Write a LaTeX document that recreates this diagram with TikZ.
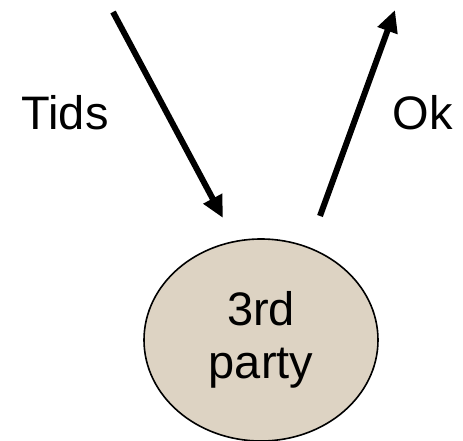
\documentclass[tikz,border=0pt]{standalone}
\usepackage{fontspec}
\setmainfont{Liberation Sans}
\usetikzlibrary{arrows.meta,shapes.geometric}
\definecolor{partyfill}{RGB}{221,211,195}
\begin{document}
\begin{tikzpicture}[x=1pt,y=-1pt,
  flow/.style={line width=6pt,-{Triangle[length=22pt,width=20pt]}},
  lbl/.style={font=\fontsize{47}{53}\selectfont,inner sep=0pt,anchor=base},
  party/.style={ellipse,draw=black,line width=1.6pt,fill=partyfill,
    minimum width=234pt,minimum height=202pt,inner sep=0pt,align=center,
    font=\fontsize{47}{53}\selectfont}]
  \useasboundingbox (0,0) rectangle (463,441);
  \node[party] (p) at (261,340) {3rd\\party};
  \coordinate (tin0) at (113,12);
  \coordinate (tin1) at (223,218);
  \coordinate (ok0) at (320,216);
  \coordinate (ok1) at (395,10);
  \draw[flow] (tin0) -- (tin1);
  \draw[flow] (ok0) -- (ok1);
  \node[lbl] (tids) at (65,130) {Tids};
  \node[lbl] (ok) at (423,130) {Ok};
\end{tikzpicture}
\end{document}
